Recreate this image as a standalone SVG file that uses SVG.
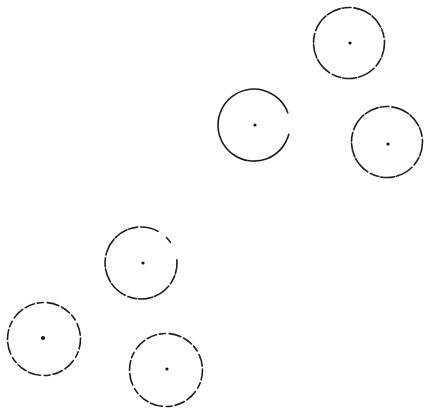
<svg xmlns="http://www.w3.org/2000/svg" width="425" height="409" viewBox="0 0 425 409">
<style>
.ring{fill:none;stroke:#1e1e1e;stroke-width:1.6;stroke-linecap:round}
.broken{stroke-dasharray:14 2 9 3 18 2}
.rough{stroke-dasharray:10 3 6 4 12 3}
.dot{fill:#111}
</style>
<rect width="425" height="409" fill="#ffffff"/>
<g id="connectors"></g>
<g id="node1">
<circle class="ring broken" cx="349" cy="43" r="35.5"/>
<circle class="dot" cx="350" cy="43" r="1.6"/>
</g>
<g id="node2">
<path class="ring" d="M288.8,134.3 A36,36 0 1 1 287.8,112.7"/>
<circle class="dot" cx="255" cy="125" r="1.6"/>
</g>
<g id="node3">
<circle class="ring broken" cx="387" cy="142" r="35.5"/>
<circle class="dot" cx="388" cy="144" r="1.6"/>
</g>
<g id="node4">
<path class="ring broken" d="M176.9,259.9 A36,36 0 1 1 159,231.8"/>
<path class="ring" d="M166.5,237.5 A36,36 0 0 1 170.5,242.4"/>
<circle class="dot" cx="143" cy="263" r="1.6"/>
</g>
<g id="node5">
<circle class="ring rough" cx="44" cy="339" r="36.5"/>
<circle class="dot" cx="43" cy="338" r="2"/>
</g>
<g id="node6">
<circle class="ring rough" cx="166" cy="370" r="36.5"/>
<circle class="dot" cx="167" cy="369" r="1.6"/>
</g>
</svg>
